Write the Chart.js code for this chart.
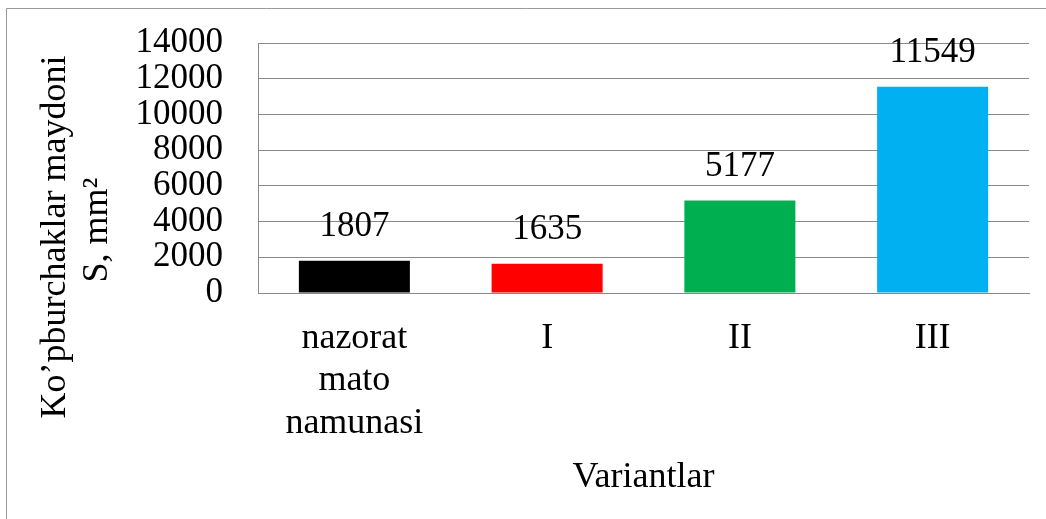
<!DOCTYPE html>
<html>
<head>
<meta charset="utf-8">
<script src="https://cdn.jsdelivr.net/npm/chart.js@4.4.1/dist/chart.umd.min.js"></script>
<style>
  html, body { margin: 0; padding: 0; background: #fff; }
  #wrap { width: 1046px; height: 519px; position: relative; }
</style>
</head>
<body>
<div id="wrap"><canvas id="areaChart"></canvas></div>
<script>
  // Chart data
  const categories = [["nazorat", "mato", "namunasi"], "I", "II", "III"];
  const areaValues = [1807, 1635, 5177, 11549];
  const barColors = ["#000000", "#FF0000", "#00B050", "#00B0F0"];
  const yTicks = [0, 2000, 4000, 6000, 8000, 10000, 12000, 14000];
  const yTitle = ["Ko’pburchaklar maydoni", "S, mm²"];
  const xTitle = "Variantlar";

  const serif = "'Liberation Serif', 'Times New Roman', serif";
  const gridGrey = "#8a8a8a";

  // outer frame (only left and top edges show in the picture)
  const framePlugin = {
    id: "frame",
    beforeDraw(chart) {
      const c = chart.ctx;
      c.save();
      c.strokeStyle = "#9a9a9a";
      c.lineWidth = 1;
      c.beginPath();
      c.moveTo(6.5, 519);
      c.lineTo(6.5, 8.5);
      c.lineTo(1046, 8.5);
      c.stroke();
      c.restore();
    }
  };

  // value labels above the bars
  const valueLabels = {
    id: "valueLabels",
    afterDatasetsDraw(chart) {
      const c = chart.ctx;
      const meta = chart.getDatasetMeta(0);
      c.save();
      c.font = "35px " + serif;
      c.fillStyle = "#000";
      c.textAlign = "center";
      c.textBaseline = "alphabetic";
      meta.data.forEach((bar, i) => {
        c.fillText(String(areaValues[i]), bar.x, bar.y - 25);
      });
      c.restore();
    }
  };

  // axis titles
  const axisTitles = {
    id: "axisTitles",
    afterDraw(chart) {
      const c = chart.ctx;
      const area = chart.chartArea;
      c.save();
      c.font = "36px " + serif;
      c.fillStyle = "#000";
      c.textAlign = "center";
      c.textBaseline = "alphabetic";
      c.fillText(xTitle, (area.left + area.right) / 2, 487);

      const spots = [[65, 237], [107, 230]];
      yTitle.forEach((line, i) => {
        c.save();
        c.translate(spots[i][0], spots[i][1]);
        c.rotate(-Math.PI / 2);
        c.fillText(line, 0, 0);
        c.restore();
      });
      c.restore();
    }
  };

  const ctx = document.getElementById("areaChart").getContext("2d");
  const areaChart = new Chart(ctx, {
    type: "bar",
    data: {
      labels: categories,
      datasets: [{
        data: areaValues,
        backgroundColor: barColors,
        borderWidth: 0,
        categoryPercentage: 1,
        barPercentage: 0.576,
      }],
    },
    options: {
      responsive: true,
      maintainAspectRatio: false,
      animation: false,
      layout: { padding: { left: 0, top: 43, right: 17, bottom: 0 } },
      plugins: {
        legend: { display: false },
        tooltip: { enabled: false },
      },
      scales: {
        x: {
          grid: { display: false, drawTicks: false },
          border: { display: true, color: gridGrey, width: 1 },
          ticks: {
            color: "#000",
            font: { family: serif, size: 36, lineHeight: 1.18 },
            padding: 24,
            maxRotation: 0,
            autoSkip: false,
          },
          afterFit(scale) { scale.height = 226; },
        },
        y: {
          min: 0,
          max: 14000,
          afterBuildTicks(scale) {
            scale.ticks = yTicks.map((v) => ({ value: v }));
          },
          grid: { color: gridGrey, lineWidth: 1, drawTicks: false },
          border: { display: true, color: gridGrey, width: 1 },
          ticks: {
            color: "#000",
            font: { family: serif, size: 35 },
            padding: 35,
            autoSkip: false,
            callback: (v) => String(v),
          },
          afterFit(scale) {
            scale.width = 258;
            scale.paddingTop = 0;
            scale.paddingBottom = 0;
          },
        },
      },
    },
    plugins: [framePlugin, valueLabels, axisTitles],
  });
</script>
</body>
</html>
